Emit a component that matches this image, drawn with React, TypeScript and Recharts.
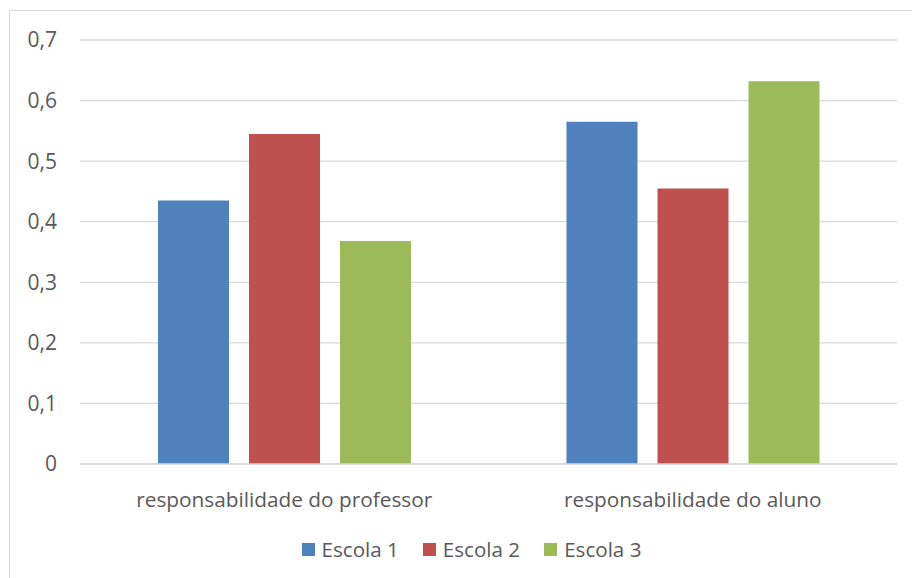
import { Bar, BarChart, CartesianGrid, Legend, XAxis, YAxis } from 'recharts'

const categories = ['responsabilidade do professor', 'responsabilidade do aluno']
const escola1 = [0.435, 0.565]
const escola2 = [0.545, 0.455]
const escola3 = [0.368, 0.632]
const yTicks = [0, 0.1, 0.2, 0.3, 0.4, 0.5, 0.6, 0.7]

const seriesList = [
  { key: 'escola1', name: 'Escola 1', color: '#4f81bd' },
  { key: 'escola2', name: 'Escola 2', color: '#c0504d' },
  { key: 'escola3', name: 'Escola 3', color: '#9bbb59' },
]

const chartData = categories.map((category, index) => ({
  category,
  escola1: escola1[index],
  escola2: escola2[index],
  escola3: escola3[index],
}))

const FONT = '"Open Sans", Lato, sans-serif'
const TEXT_COLOR = '#595959'
const GRID_COLOR = '#d9d9d9'

function formatTick(value: number): string {
  return String(Math.round(value * 10) / 10).replace('.', ',')
}

function SchoolLegend() {
  return (
    <div
      style={{
        display: 'flex',
        justifyContent: 'center',
        alignItems: 'center',
        height: 30,
        paddingLeft: 46,
        boxSizing: 'border-box',
        fontFamily: FONT,
        fontSize: 20.6,
        color: TEXT_COLOR,
      }}
    >
      {seriesList.map((series, index) => (
        <div
          key={series.key}
          style={{ display: 'flex', alignItems: 'center', marginLeft: index === 0 ? 0 : 24 }}
        >
          <span style={{ width: 13, height: 13, background: series.color, marginRight: 7 }} />
          <span>{series.name}</span>
        </div>
      ))}
    </div>
  )
}

export default function App() {
  return (
    <div style={{ position: 'relative', width: 912, height: 578, overflow: 'hidden', background: '#fff' }}>
      <style>{'body { margin: 0; }'}</style>
      <div
        style={{
          position: 'absolute',
          left: 9,
          top: 10,
          width: 920,
          height: 600,
          border: `1px solid ${GRID_COLOR}`,
          boxSizing: 'border-box',
        }}
      />
      <div style={{ position: 'absolute', left: 0, top: 0 }}>
        <BarChart
          width={912}
          height={578}
          data={chartData}
          margin={{ top: 40, right: 15, left: 0, bottom: 14 }}
          barSize={71}
          barGap={20}
        >
          <CartesianGrid vertical={false} stroke={GRID_COLOR} strokeWidth={1.3} />
          <XAxis
            dataKey="category"
            height={70}
            tickLine={false}
            tickSize={0}
            tickMargin={28}
            axisLine={{ stroke: GRID_COLOR, strokeWidth: 1.3 }}
            tick={{ fill: TEXT_COLOR, fontSize: 20.8, fontFamily: FONT }}
          />
          <YAxis
            width={80}
            domain={[0, 0.7]}
            ticks={yTicks}
            tickFormatter={formatTick}
            axisLine={false}
            tickLine={false}
            tickSize={0}
            tickMargin={23}
            tick={{ fill: TEXT_COLOR, fontSize: 21, fontFamily: FONT }}
          />
          <Legend verticalAlign="bottom" height={30} content={<SchoolLegend />} />
          {seriesList.map((series) => (
            <Bar
              key={series.key}
              dataKey={series.key}
              name={series.name}
              fill={series.color}
              isAnimationActive={false}
            />
          ))}
        </BarChart>
      </div>
    </div>
  )
}
